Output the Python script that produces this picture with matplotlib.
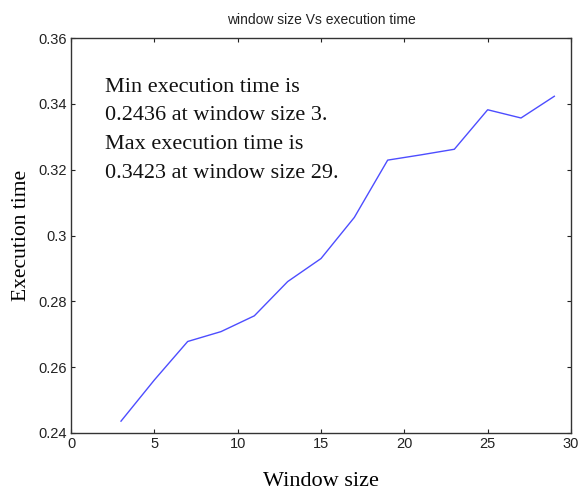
import matplotlib
matplotlib.use("Agg")
import matplotlib.pyplot as plt

window_size = [3, 5, 7, 9, 11, 13, 15, 17, 19, 21, 23, 25, 27, 29]
exec_time = [0.2436, 0.2561, 0.2678, 0.2708, 0.2756, 0.2860, 0.2930,
             0.3055, 0.3229, 0.3245, 0.3262, 0.3382, 0.3357, 0.3423]

x_ticks = [0, 5, 10, 15, 20, 25, 30]
y_ticks = [0.24, 0.26, 0.28, 0.30, 0.32, 0.34, 0.36]
y_tick_labels = ["0.24", "0.26", "0.28", "0.3", "0.32", "0.34", "0.36"]

note = ("Min execution time is\n0.2436 at window size 3.\n"
        "Max execution time is\n0.3423 at window size 29.")

fig = plt.figure(figsize=(5.79, 4.93), dpi=100)
ax = fig.add_axes([71 / 579, 1 - 433 / 493, 500 / 579, 395 / 493])

ax.plot(window_size, exec_time, color="#4d4dff", lw=1.0)

ax.set_xlim(0, 30)
ax.set_ylim(0.24, 0.36)
ax.set_xticks(x_ticks)
ax.set_yticks(y_ticks)
ax.set_yticklabels(y_tick_labels)
ax.tick_params(direction="in", top=True, right=True, length=3,
               labelsize=10.5, colors="#222222", pad=3)
for lbl in ax.get_xticklabels() + ax.get_yticklabels():
    lbl.set_family("Liberation Sans")
for s in ax.spines.values():
    s.set_color("#333333")
    s.set_linewidth(1.0)

ax.set_title("window size Vs execution time", family="Liberation Sans",
             fontsize=10, color="#222222", pad=10)
ax.set_xlabel("Window size", family="Liberation Serif", fontsize=16,
              labelpad=15)
ax.set_ylabel("Execution time", family="Liberation Serif", fontsize=15.5,
              labelpad=5)

ax.text(0.068, 0.90, note, transform=ax.transAxes, va="top", ha="left",
        family="Liberation Serif", fontsize=16, linespacing=1.7,
        color="#111111")

fig.savefig("out.png", dpi=100)
